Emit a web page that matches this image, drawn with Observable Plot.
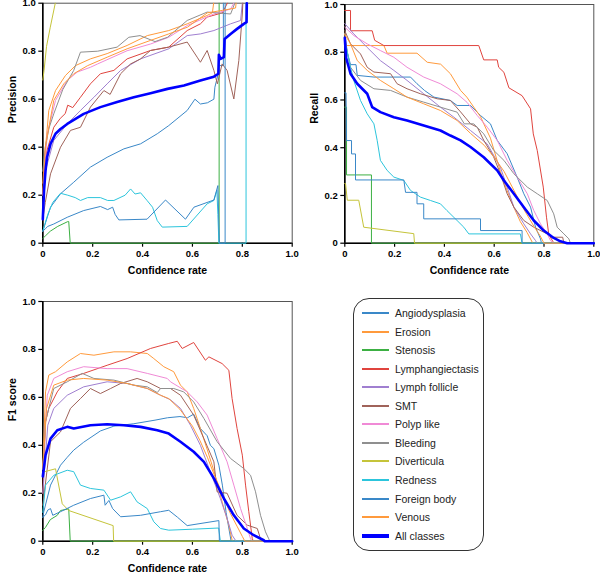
<!DOCTYPE html>
<html>
<head>
<meta charset="utf-8">
<script src="https://cdn.jsdelivr.net/npm/d3@7"></script>
<script src="https://cdn.jsdelivr.net/npm/@observablehq/plot@0.6"></script>
<style>
  body { margin: 0; background: #fff; }
  #wrap { position: relative; width: 600px; height: 576px; overflow: hidden; font-family: "Liberation Sans", Arial, sans-serif; }
  .panel { position: absolute; }
  #legend { position: absolute; left: 353px; top: 298px; width: 131px; height: 253px; border: 1.3px solid #333; border-radius: 16px; box-sizing: border-box; }
  .row { position: absolute; left: 0; width: 128px; height: 14px; font-size: 10.5px; color: #222; white-space: nowrap; }
  .sw { position: absolute; left: 8px; width: 27px; }
  .lab { position: absolute; left: 41px; top: 0; line-height: 14px; }
</style>
</head>
<body>
<div id="wrap">
  <div id="p1" class="panel" style="left:0;top:0"></div>
  <div id="p2" class="panel" style="left:302px;top:0"></div>
  <div id="p3" class="panel" style="left:0;top:298px"></div>
  <div id="legend"></div>
</div>
<script>
// ---------- categories / styles ----------
const classNames = ["Angiodysplasia","Erosion","Stenosis","Lymphangiectasis","Lymph follicle","SMT","Polyp like","Bleeding","Diverticula","Redness","Foreign body","Venous","All classes"];
const classColors = ["#3a88c8","#ff9a3c","#3cb043","#e0443e","#a07fd0","#a0635a","#f08ad6","#8f8f8f","#c5c43a","#2cc5dc","#3a88c8","#ff9a3c","#0000ff"];
const tickValues = [0, 0.2, 0.4, 0.6, 0.8, 1.0];
const tickLabels = ["0", "0.2", "0.4", "0.6", "0.8", "1.0"];

// ---------- Precision ----------
const precAngiodysplasia = [[0,0.05],[0.031,0.15],[0.071,0.206],[0.124,0.254],[0.191,0.317],[0.258,0.358],[0.325,0.393],[0.392,0.414],[0.459,0.456],[0.505,0.49],[0.579,0.553],[0.61,0.6],[0.632,0.58],[0.66,0.585],[0.686,0.6],[0.69,0.65],[0.702,0.70],[0.705,0.74],[0.724,0.74],[0.724,1]];
const precErosion = [[0,0.25],[0.004,0.317],[0.024,0.553],[0.051,0.636],[0.091,0.699],[0.131,0.74],[0.191,0.768],[0.258,0.79],[0.338,0.824],[0.419,0.865],[0.505,0.886],[0.579,0.914],[0.659,0.949],[0.68,0.96],[0.685,1]];
const precStenosis = [[0,0.02],[0.01,0.03],[0.03,0.05],[0.06,0.07],[0.1,0.09],[0.104,0.09],[0.11,0],[0.707,0],[0.707,1]];
const precLymphangiectasis = [[0,0.2],[0.004,0.3],[0.015,0.38],[0.044,0.483],[0.07,0.52],[0.09,0.54],[0.1,0.575],[0.12,0.565],[0.151,0.608],[0.191,0.664],[0.231,0.706],[0.285,0.72],[0.338,0.768],[0.432,0.803],[0.505,0.817],[0.579,0.886],[0.632,0.914],[0.659,0.942],[0.72,0.96],[0.74,1]];
const precLymphFollicle = [[0,0.15],[0.01,0.3],[0.044,0.428],[0.098,0.497],[0.151,0.553],[0.205,0.608],[0.258,0.664],[0.312,0.72],[0.392,0.768],[0.505,0.81],[0.579,0.865],[0.632,0.872],[0.686,0.886],[0.753,0.914],[0.793,0.928],[0.8,1]];
const precSMT = [[0,0.1],[0.01,0.17],[0.031,0.289],[0.071,0.4],[0.111,0.47],[0.151,0.483],[0.191,0.567],[0.245,0.636],[0.27,0.62],[0.312,0.706],[0.352,0.747],[0.392,0.768],[0.432,0.803],[0.505,0.817],[0.579,0.838],[0.619,0.775],[0.632,0.754],[0.659,0.803],[0.686,0.72],[0.70,0.664],[0.719,0.747],[0.739,0.72],[0.766,0.601],[0.786,0.761],[0.8,0.955],[0.802,1]];
const precPolypLike = [[0,0.2],[0.018,0.456],[0.051,0.595],[0.098,0.678],[0.138,0.713],[0.191,0.733],[0.22,0.747],[0.338,0.802],[0.432,0.83],[0.505,0.858],[0.579,0.907],[0.686,0.955],[0.753,0.976],[0.766,1]];
const precBleeding = [[0,0.3],[0.01,0.4],[0.025,0.48],[0.044,0.539],[0.08,0.64],[0.124,0.72],[0.151,0.796],[0.22,0.8],[0.298,0.817],[0.345,0.858],[0.39,0.865],[0.45,0.84],[0.5,0.858],[0.579,0.928],[0.659,0.963],[0.753,0.955],[0.77,1]];
const precDiverticula = [[0,0.68],[0.005,0.72],[0.015,0.82],[0.03,0.9],[0.05,1]];
const precRedness = [[0,0.05],[0.02,0.12],[0.04,0.17],[0.071,0.208],[0.1,0.2],[0.13,0.19],[0.151,0.178],[0.18,0.19],[0.231,0.19],[0.26,0.178],[0.285,0.178],[0.33,0.2],[0.352,0.226],[0.37,0.205],[0.392,0.21],[0.418,0.178],[0.44,0.15],[0.459,0.094],[0.479,0.067],[0.579,0.07],[0.659,0.164],[0.686,0.178],[0.698,0.22],[0.702,0.12],[0.706,0],[0.815,0],[0.815,1]];
const precForeignBody = [[0,0.05],[0.01,0.06],[0.02,0.07],[0.044,0.08],[0.098,0.108],[0.164,0.136],[0.231,0.153],[0.26,0.14],[0.28,0.15],[0.29,0.12],[0.305,0.097],[0.418,0.1],[0.492,0.18],[0.572,0.1],[0.606,0.15],[0.686,0.18],[0.702,0.24],[0.708,0],[0.731,0],[0.731,1]];
const precVenous = [[0,0.2],[0.01,0.4],[0.044,0.595],[0.084,0.664],[0.124,0.706],[0.18,0.74],[0.258,0.775],[0.338,0.81],[0.432,0.845],[0.505,0.872],[0.58,0.9],[0.66,0.96],[0.72,0.97],[0.773,0.98],[0.775,1]];
const precAll = [[0,0.1],[0.005,0.22],[0.011,0.303],[0.017,0.358],[0.031,0.414],[0.051,0.456],[0.071,0.476],[0.098,0.497],[0.164,0.539],[0.231,0.567],[0.298,0.588],[0.365,0.608],[0.432,0.625],[0.5,0.643],[0.566,0.657],[0.632,0.678],[0.686,0.694],[0.704,0.706],[0.706,0.785],[0.713,0.768],[0.726,0.775],[0.729,0.851],[0.753,0.872],[0.779,0.893],[0.806,0.914],[0.817,0.921],[0.818,1]];

// ---------- Recall ----------
const recAngiodysplasia = [[0,0.86],[0.01,0.8],[0.023,0.748],[0.045,0.748],[0.05,0.703],[0.117,0.696],[0.264,0.696],[0.29,0.668],[0.32,0.64],[0.358,0.612],[0.424,0.598],[0.451,0.577],[0.505,0.577],[0.545,0.535],[0.585,0.5],[0.612,0.431],[0.652,0.375],[0.692,0.277],[0.719,0.207],[0.746,0.151],[0.766,0.067],[0.786,0.018],[0.79,0],[1,0]];
const recErosion = [[0,0.88],[0.005,0.828],[0.157,0.828],[0.17,0.796],[0.29,0.796],[0.331,0.758],[0.385,0.75],[0.424,0.71],[0.465,0.64],[0.49,0.612],[0.518,0.57],[0.545,0.53],[0.585,0.44],[0.625,0.3],[0.652,0.22],[0.679,0.15],[0.705,0.09],[0.732,0.045],[0.755,0],[1,0]];
const recStenosis = [[0,0.57],[0.007,0.57],[0.007,0.286],[0.107,0.286],[0.107,0],[1,0]];
const recLymphangiectasis = [[0,0.975],[0.023,0.975],[0.023,0.89],[0.11,0.89],[0.12,0.85],[0.157,0.828],[0.538,0.828],[0.558,0.768],[0.612,0.768],[0.618,0.737],[0.639,0.716],[0.659,0.651],[0.712,0.618],[0.746,0.563],[0.757,0.458],[0.773,0.388],[0.797,0.235],[0.81,0.109],[0.819,0.039],[0.83,0.017],[0.84,0],[1,0]];
const recLymphFollicle = [[0,0.92],[0.036,0.877],[0.09,0.82],[0.143,0.765],[0.197,0.724],[0.25,0.682],[0.317,0.626],[0.384,0.57],[0.438,0.528],[0.505,0.472],[0.572,0.416],[0.625,0.318],[0.652,0.235],[0.679,0.151],[0.719,0.081],[0.746,0.039],[0.766,0.011],[0.772,0],[1,0]];
const recSMT = [[0,0.89],[0.023,0.835],[0.063,0.793],[0.09,0.737],[0.117,0.717],[0.184,0.71],[0.21,0.668],[0.25,0.647],[0.304,0.626],[0.371,0.605],[0.424,0.598],[0.465,0.55],[0.505,0.5],[0.532,0.486],[0.558,0.431],[0.598,0.361],[0.625,0.291],[0.652,0.207],[0.679,0.151],[0.719,0.095],[0.759,0.067],[0.813,0.039],[0.839,0.025],[0.875,0.025],[0.88,0],[1,0]];
const recPolypLike = [[0,0.905],[0.036,0.87],[0.09,0.835],[0.143,0.807],[0.197,0.779],[0.25,0.737],[0.317,0.696],[0.384,0.668],[0.451,0.626],[0.491,0.59],[0.532,0.535],[0.572,0.486],[0.612,0.431],[0.652,0.347],[0.692,0.277],[0.733,0.207],[0.759,0.137],[0.786,0.081],[0.813,0.039],[0.826,0.011],[0.84,0],[1,0]];
const recBleeding = [[0,0.88],[0.01,0.8],[0.023,0.737],[0.063,0.682],[0.117,0.647],[0.184,0.64],[0.25,0.612],[0.317,0.591],[0.384,0.57],[0.451,0.549],[0.48,0.5],[0.518,0.5],[0.558,0.458],[0.598,0.389],[0.639,0.347],[0.679,0.291],[0.733,0.235],[0.773,0.207],[0.813,0.179],[0.839,0.123],[0.853,0.067],[0.88,0.039],[0.9,0.018],[0.906,0],[1,0]];
const recDiverticula = [[0,0.25],[0.003,0.25],[0.01,0.18],[0.056,0.18],[0.076,0.067],[0.277,0.04],[0.28,0],[1,0]];
const recRedness = [[0,0.85],[0.01,0.8],[0.023,0.737],[0.036,0.682],[0.063,0.598],[0.09,0.542],[0.117,0.5],[0.13,0.431],[0.143,0.347],[0.17,0.305],[0.197,0.277],[0.237,0.263],[0.264,0.221],[0.304,0.193],[0.344,0.179],[0.384,0.165],[0.41,0.137],[0.451,0.095],[0.478,0.067],[0.498,0.039],[0.705,0.039],[0.712,0],[1,0]];
const recForeignBody = [[0,0.63],[0.005,0.63],[0.007,0.43],[0.027,0.43],[0.027,0.374],[0.043,0.374],[0.043,0.265],[0.237,0.265],[0.244,0.213],[0.29,0.213],[0.29,0.165],[0.317,0.165],[0.317,0.102],[0.545,0.102],[0.545,0.053],[0.712,0.053],[0.712,0],[1,0]];
const recVenous = [[0,0.875],[0.023,0.835],[0.05,0.765],[0.09,0.724],[0.143,0.682],[0.197,0.647],[0.25,0.612],[0.317,0.584],[0.384,0.556],[0.451,0.514],[0.505,0.46],[0.56,0.41],[0.6,0.36],[0.64,0.3],[0.68,0.22],[0.72,0.14],[0.76,0.07],[0.785,0.03],[0.8,0],[1,0]];
const recAll = [[0,0.86],[0.005,0.778],[0.023,0.71],[0.05,0.668],[0.09,0.626],[0.11,0.57],[0.143,0.549],[0.197,0.528],[0.25,0.514],[0.317,0.493],[0.384,0.472],[0.424,0.451],[0.465,0.431],[0.505,0.403],[0.558,0.36],[0.612,0.305],[0.639,0.263],[0.679,0.207],[0.719,0.151],[0.759,0.095],[0.799,0.053],[0.839,0.022],[0.866,0.008],[0.893,0],[1,0]];

// ---------- F1 score ----------
const f1Angiodysplasia = [[0,0.1],[0.004,0.123],[0.031,0.234],[0.071,0.317],[0.098,0.35],[0.124,0.38],[0.164,0.413],[0.231,0.46],[0.285,0.48],[0.365,0.49],[0.45,0.505],[0.5,0.515],[0.55,0.52],[0.58,0.515],[0.605,0.53],[0.632,0.47],[0.659,0.44],[0.672,0.4],[0.686,0.386],[0.706,0.317],[0.72,0.234],[0.735,0.12],[0.755,0],[1,0]];
const f1Erosion = [[0,0.3],[0.011,0.623],[0.024,0.693],[0.051,0.707],[0.098,0.748],[0.151,0.783],[0.205,0.776],[0.285,0.79],[0.352,0.79],[0.419,0.783],[0.445,0.762],[0.485,0.728],[0.525,0.707],[0.552,0.651],[0.579,0.623],[0.605,0.554],[0.632,0.47],[0.66,0.38],[0.69,0.28],[0.72,0.16],[0.745,0.07],[0.76,0],[1,0]];
const f1Stenosis = [[0,0.045],[0.011,0.058],[0.03,0.09],[0.058,0.108],[0.071,0.128],[0.104,0.135],[0.11,0],[1,0]];
const f1Lymphangiectasis = [[0,0.2],[0.011,0.498],[0.024,0.554],[0.058,0.623],[0.098,0.679],[0.164,0.7],[0.258,0.734],[0.338,0.762],[0.432,0.804],[0.505,0.825],[0.539,0.834],[0.559,0.804],[0.605,0.829],[0.652,0.755],[0.666,0.769],[0.719,0.741],[0.746,0.713],[0.759,0.595],[0.779,0.47],[0.8,0.359],[0.813,0.234],[0.826,0.123],[0.84,0.01],[0.845,0],[1,0]];
const f1LymphFollicle = [[0,0.2],[0.02,0.484],[0.044,0.554],[0.098,0.609],[0.164,0.644],[0.258,0.665],[0.338,0.658],[0.419,0.637],[0.472,0.609],[0.512,0.59],[0.552,0.554],[0.592,0.484],[0.632,0.4],[0.672,0.289],[0.712,0.178],[0.739,0.095],[0.759,0.025],[0.775,0],[1,0]];
const f1SMT = [[0,0.15],[0.031,0.415],[0.071,0.456],[0.111,0.554],[0.151,0.595],[0.191,0.637],[0.231,0.616],[0.272,0.637],[0.312,0.658],[0.378,0.679],[0.419,0.665],[0.472,0.637],[0.512,0.637],[0.552,0.609],[0.605,0.526],[0.646,0.428],[0.686,0.331],[0.699,0.206],[0.739,0.2],[0.779,0.108],[0.82,0.067],[0.86,0.053],[0.873,0.01],[0.88,0],[1,0]];
const f1PolypLike = [[0,0.3],[0.018,0.609],[0.044,0.679],[0.098,0.707],[0.164,0.728],[0.258,0.72],[0.338,0.72],[0.419,0.7],[0.499,0.679],[0.512,0.665],[0.579,0.623],[0.619,0.581],[0.659,0.526],[0.699,0.428],[0.739,0.331],[0.766,0.234],[0.793,0.136],[0.82,0.053],[0.833,0.01],[0.84,0],[1,0]];
const f1Bleeding = [[0,0.3],[0.011,0.5],[0.044,0.637],[0.098,0.665],[0.158,0.7],[0.205,0.679],[0.285,0.672],[0.365,0.651],[0.419,0.644],[0.459,0.62],[0.472,0.637],[0.525,0.637],[0.565,0.623],[0.605,0.581],[0.646,0.512],[0.699,0.415],[0.753,0.345],[0.806,0.303],[0.833,0.275],[0.853,0.206],[0.873,0.108],[0.893,0.039],[0.906,0.01],[0.91,0],[1,0]];
const f1Diverticula = [[0,0.288],[0.051,0.302],[0.078,0.156],[0.104,0.128],[0.282,0.065],[0.284,0],[1,0]];
const f1Redness = [[0,0.12],[0.011,0.234],[0.044,0.275],[0.098,0.296],[0.124,0.29],[0.151,0.234],[0.191,0.22],[0.245,0.213],[0.272,0.171],[0.312,0.185],[0.352,0.206],[0.378,0.164],[0.419,0.136],[0.445,0.081],[0.472,0.053],[0.505,0.046],[0.6,0.05],[0.705,0.055],[0.712,0],[1,0]];
const f1ForeignBody = [[0,0.1],[0.011,0.11],[0.02,0.13],[0.031,0.136],[0.04,0.108],[0.071,0.123],[0.124,0.15],[0.191,0.178],[0.245,0.192],[0.25,0.15],[0.265,0.17],[0.28,0.136],[0.312,0.102],[0.392,0.108],[0.472,0.123],[0.505,0.129],[0.54,0.1],[0.579,0.065],[0.706,0.086],[0.708,0],[1,0]];
const f1Venous = [[0,0.3],[0.015,0.554],[0.044,0.651],[0.098,0.672],[0.164,0.679],[0.258,0.672],[0.338,0.658],[0.419,0.637],[0.472,0.609],[0.505,0.595],[0.55,0.55],[0.6,0.48],[0.63,0.42],[0.66,0.35],[0.69,0.27],[0.72,0.2],[0.75,0.12],[0.78,0.06],[0.8,0.02],[0.81,0],[1,0]];
const f1All = [[0,0.27],[0.011,0.359],[0.031,0.428],[0.058,0.463],[0.098,0.477],[0.124,0.47],[0.191,0.484],[0.258,0.488],[0.325,0.484],[0.392,0.477],[0.459,0.463],[0.505,0.449],[0.552,0.415],[0.605,0.373],[0.646,0.331],[0.686,0.262],[0.726,0.178],[0.766,0.108],[0.806,0.053],[0.846,0.025],[0.886,0.004],[0.89,0],[1,0]];

const precisionSeries = [precAngiodysplasia, precErosion, precStenosis, precLymphangiectasis, precLymphFollicle, precSMT, precPolypLike, precBleeding, precDiverticula, precRedness, precForeignBody, precVenous, precAll];
const recallSeries = [recAngiodysplasia, recErosion, recStenosis, recLymphangiectasis, recLymphFollicle, recSMT, recPolypLike, recBleeding, recDiverticula, recRedness, recForeignBody, recVenous, recAll];
const f1Series = [f1Angiodysplasia, f1Erosion, f1Stenosis, f1Lymphangiectasis, f1LymphFollicle, f1SMT, f1PolypLike, f1Bleeding, f1Diverticula, f1Redness, f1ForeignBody, f1Venous, f1All];

function toRows(seriesList) {
  const rows = [];
  seriesList.forEach((s, i) => s.forEach(([x, y]) => rows.push({name: classNames[i], color: classColors[i], x, y})));
  return rows;
}

function panel(seriesList, yLabel, w, mTop, mRight) {
  const rows = toRows(seriesList);
  const thin = rows.filter(d => d.name !== "All classes");
  const all = rows.filter(d => d.name === "All classes");
  const fmt = v => tickLabels[tickValues.findIndex(t => Math.abs(t - v) < 1e-9)];
  return Plot.plot({
    width: w,
    height: 285,
    marginLeft: 42.3,
    marginRight: mRight,
    marginTop: mTop,
    marginBottom: 42.3,
    style: {fontFamily: "'Liberation Sans', Arial, sans-serif", fontSize: "9.5px", fontWeight: "bold", color: "#000", background: "transparent", overflow: "visible"},
    x: {domain: [0, 1]},
    y: {domain: [0, 1]},
    marks: [
      Plot.frame({stroke: "#555", strokeWidth: 1}),
      Plot.ruleX([0], {stroke: "#000", strokeWidth: 1.6}),
      Plot.ruleY([0], {stroke: "#000", strokeWidth: 1.6}),
      Plot.axisX({ticks: tickValues, tickFormat: fmt, tickSize: 4, tickPadding: 3, label: null, strokeWidth: 1.2}),
      Plot.axisY({ticks: tickValues, tickFormat: fmt, tickSize: 4, tickPadding: 3, label: null, strokeWidth: 1.2}),
      Plot.line(thin, {x: "x", y: "y", z: "name", stroke: d => d.color, strokeWidth: 1, strokeLinejoin: "miter"}),
      Plot.line(all, {x: "x", y: "y", stroke: d => d.color, strokeWidth: 2.6}),
      Plot.text(["Confidence rate"], {frameAnchor: "bottom", dy: 31, fontSize: 10.5, fontWeight: "bold", fill: "#000"}),
      Plot.text([yLabel], {frameAnchor: "left", dx: -30, rotate: -90, fontSize: 10.5, fontWeight: "bold", fill: "#000"})
    ]
  });
}

document.getElementById("p1").append(panel(precisionSeries, "Precision", 300, 2.7, 8.3));
document.getElementById("p2").append(panel(recallSeries, "Recall", 298, 4, 6.7));
document.getElementById("p3").append(panel(f1Series, "F1 score", 300, 3, 8.3));

// legend
const legend = document.getElementById("legend");
classNames.forEach((n, i) => {
  const row = document.createElement("div");
  row.className = "row";
  row.style.top = Math.round(15.3 + 18.56 * i - 7 - 1.3) + "px";
  const sw = document.createElement("div");
  sw.className = "sw";
  const h = n === "All classes" ? 4 : 2;
  sw.style.height = h + "px";
  sw.style.top = (7 - h / 2) + "px";
  sw.style.background = classColors[i];
  const lab = document.createElement("span");
  lab.className = "lab";
  lab.textContent = n;
  row.append(sw, lab);
  legend.append(row);
});
</script>
</body>
</html>
